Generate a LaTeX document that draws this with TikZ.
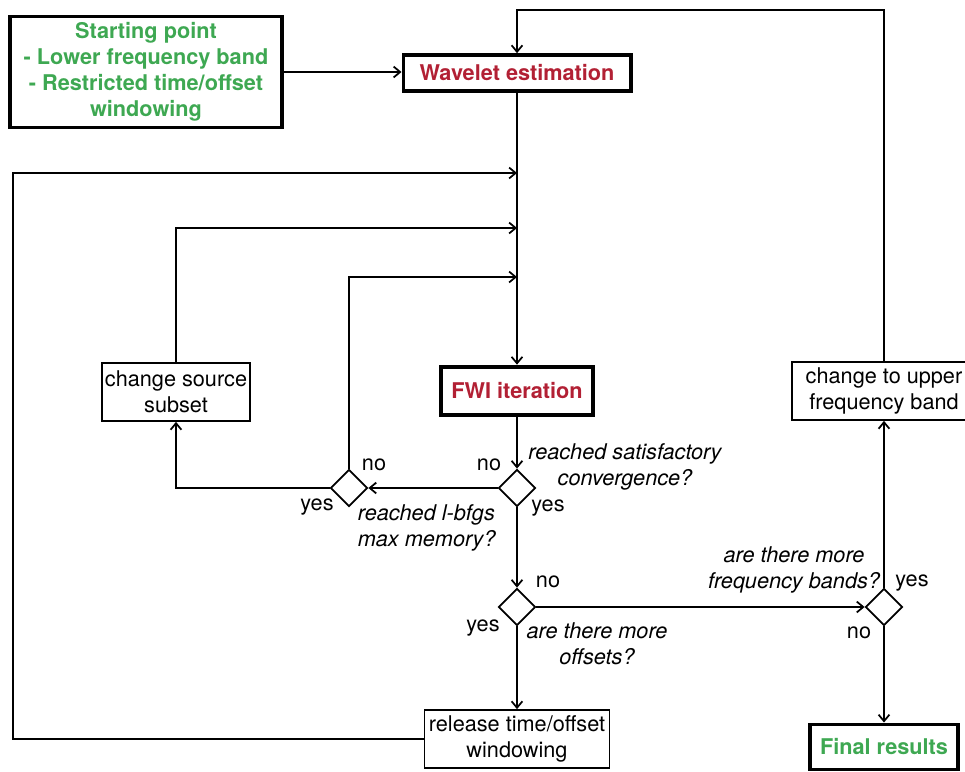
\documentclass[tikz,border=0pt]{standalone}
\usepackage{fontspec}
\setmainfont{TeX Gyre Heros}
\usetikzlibrary{arrows.meta,shapes.geometric}
\definecolor{startgreen}{RGB}{62,168,82}
\definecolor{boxred}{RGB}{178,32,52}

\begin{document}
\begin{tikzpicture}[x=0.0162cm,y=-0.0162cm,
  >={Straight Barb[length=3pt,width=5pt]},
  every path/.style={line width=0.8pt},
  box/.style={draw,line width=0.8pt,align=center,inner sep=0pt,font=\normalsize},
  thickbox/.style={draw,line width=1.8pt,align=center,inner sep=0pt,font=\bfseries},
  dec/.style={draw,diamond,aspect=1,minimum size=0.6cm,inner sep=0pt,line width=0.8pt},
  lbl/.style={inner sep=0pt},
  qst/.style={inner sep=0pt,font=\itshape,align=center}]
  \useasboundingbox (0,0) rectangle (965,771);
  \node[thickbox,text=startgreen,minimum width=4.42cm,minimum height=1.8cm] (start) at (146,72)
    {Starting point\\- Lower frequency band\\- Restricted time/offset\\windowing};
  \node[thickbox,text=boxred,minimum width=3.68cm,minimum height=0.58cm] (wavelet) at (517,73) {Wavelet estimation};
  \node[thickbox,text=boxred,minimum width=2.46cm,minimum height=0.79cm] (fwi) at (517,391) {FWI iteration};
  \node[box,minimum width=2.41cm,minimum height=0.94cm] (srcsub) at (176,392) {change source\\subset};
  \node[box,minimum width=2.98cm,minimum height=0.94cm] (upper) at (884,391) {change to upper\\frequency band};
  \node[box,minimum width=3.0cm,minimum height=0.94cm] (release) at (517,739) {release time/offset\\windowing};
  \node[thickbox,text=startgreen,minimum width=2.41cm,minimum height=0.73cm] (final) at (884,747) {Final results};
  \node[dec] (conv) at (517,488) {};
  \node[dec] (lbfgs) at (349,488) {};
  \node[dec] (offs) at (517,607) {};
  \node[dec] (bands) at (884,607) {};
  \coordinate (top) at (884,10);
  \coordinate (left) at (13,173);
  \coordinate (j1) at (517,173);
  \coordinate (j2) at (517,228);
  \coordinate (j3) at (517,277);
  % labels
  \node[lbl] (n1) at (489,465) {no};
  \node[lbl] (n2) at (374,465) {no};
  \node[lbl] (y1) at (548,508) {yes};
  \node[lbl] (y2) at (317,507) {yes};
  \node[lbl] (n3) at (548,582) {no};
  \node[lbl] (y3) at (483,628) {yes};
  \node[lbl] (y4) at (912,583) {yes};
  \node[lbl] (n4) at (859,633) {no};
  \node[qst] (q1) at (625,467) {reached satisfactory\\convergence?};
  \node[qst,anchor=west,align=left] (q2) at (357,528) {reached l-bfgs\\max memory?};
  \node[qst] (q3) at (597,644) {are there more\\offsets?};
  \node[qst] (q4) at (794,570) {are there more\\frequency bands?};
  % connectors
  \draw[->] (start.east) -- (wavelet.west |- start.east);
  \draw[->] (upper.north) -- (top) -| (wavelet.north);
  \draw[->] (wavelet.south) -- (fwi.north);
  \draw[->] (fwi.south) -- (conv.north);
  \draw[->] (conv.west) -- (lbfgs.east);
  \draw[->] (lbfgs.west) -| (srcsub.south);
  \draw[->] (srcsub.north) |- (j2);
  \draw[->] (lbfgs.north) |- (j3);
  \draw[->] (release.west) -| (left) -- (j1);
  \draw[->] (conv.south) -- (offs.north);
  \draw[->] (offs.south) -- (release.north);
  \draw[->] (offs.east) -- (bands.west);
  \draw[->] (bands.north) -- (upper.south);
  \draw[->] (bands.south) -- (final.north);
\end{tikzpicture}
\end{document}
